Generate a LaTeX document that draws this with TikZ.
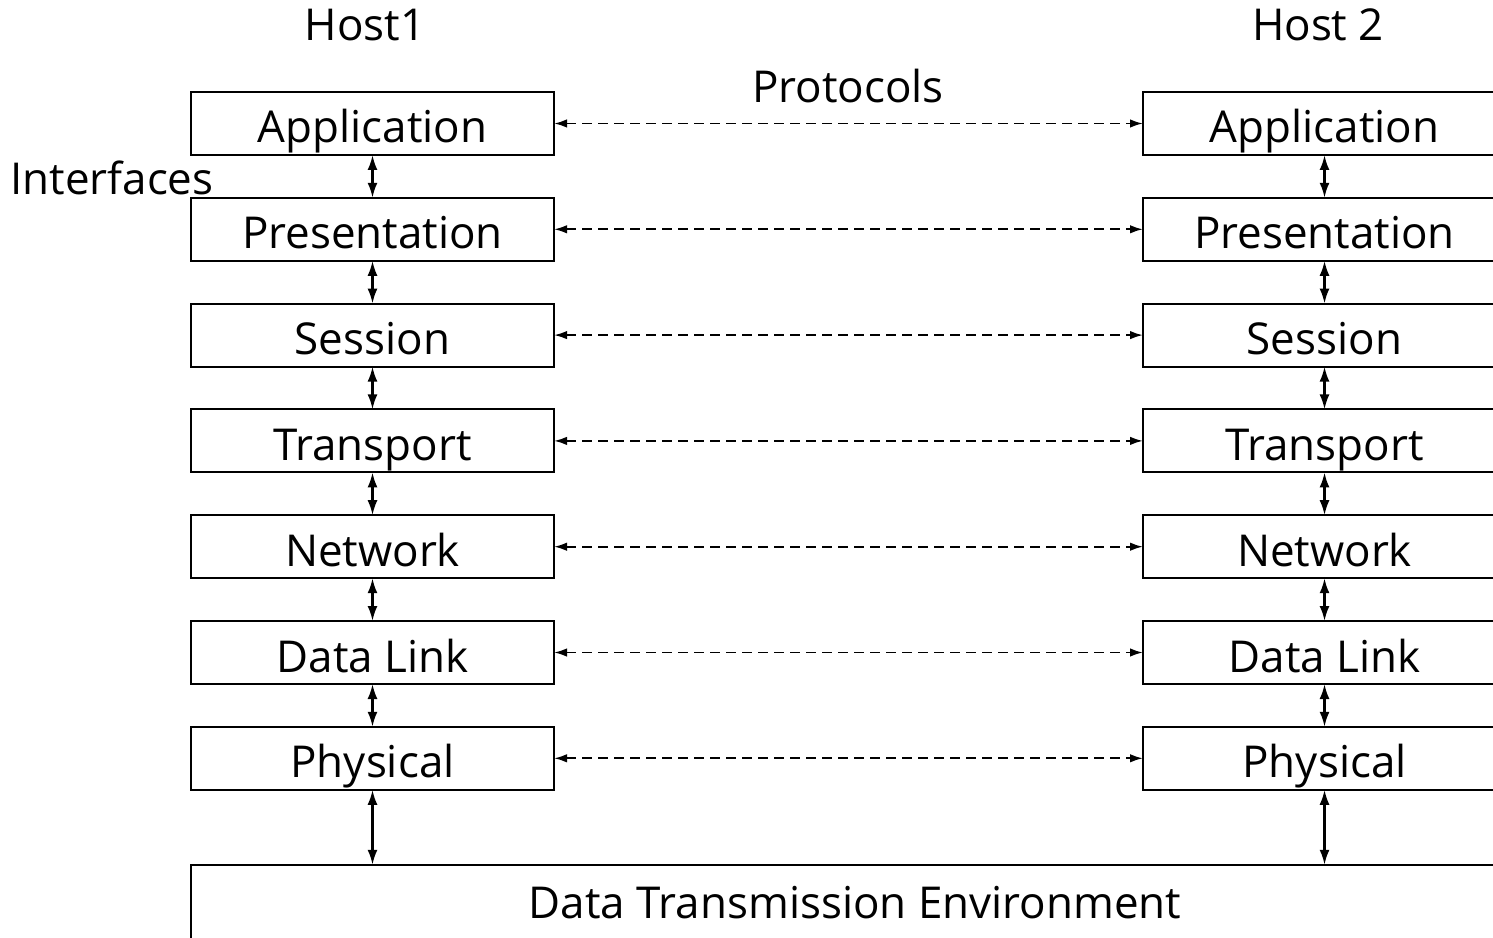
\documentclass[tikz,border=0pt]{standalone}
\usepackage{fontspec}
\setmainfont{Open Sans}
\usetikzlibrary{arrows.meta, positioning}

\begin{document}
\begin{tikzpicture}[
    node distance=0.856cm and 11.78cm,
    layer/.style={rectangle, draw, line width=1.2pt, outer sep=0pt, minimum height=1.26cm, minimum width=7.26cm, text height=0.78cm, text depth=0pt, align=center, font=\fontsize{25}{30}\selectfont},
    label text/.style={font=\fontsize{25}{30}\selectfont},
    iface/.style={arrows={Latex[length=3mm, width=2mm]-Latex[length=3mm, width=2mm]}, line width=1.3pt},
    proto/.style={arrows={Latex[length=2.6mm, width=1.7mm]-Latex[length=2.6mm, width=1.7mm]}, line width=1.1pt, dash pattern=on 0.2cm off 0.12cm}
]
    \useasboundingbox (0,0) rectangle (29.86,-18.74);
    \clip (0,0) rectangle (29.86,-18.74);

    % Host 1 stack
    \node[layer] (app1) at (7.45,-2.47) {Application};
    \node[layer, below=of app1] (pre1) {Presentation};
    \node[layer, below=of pre1] (ses1) {Session};
    \node[layer, below=of ses1] (tra1) {Transport};
    \node[layer, below=of tra1] (net1) {Network};
    \node[layer, below=of net1] (dat1) {Data Link};
    \node[layer, below=of dat1] (phy1) {Physical};

    % Host 2 stack
    \node[layer, right=of app1] (app2) {Application};
    \node[layer, below=of app2] (pre2) {Presentation};
    \node[layer, below=of pre2] (ses2) {Session};
    \node[layer, below=of ses2] (tra2) {Transport};
    \node[layer, below=of tra2] (net2) {Network};
    \node[layer, below=of net2] (dat2) {Data Link};
    \node[layer, below=of dat2] (phy2) {Physical};

    % Medium
    \node[layer, anchor=north west, minimum width=26.56cm, minimum height=1.6cm, text height=0.56cm] (env) at ([yshift=-1.5cm]phy1.south west) {Data Transmission Environment};

    % Labels
    \node[label text] (host1) at (7.3,-0.5) {Host1};
    \node[label text] (host2) at (26.36,-0.5) {Host 2};
    \node[label text] (protocols) at (16.96,-1.72) {Protocols};
    \node[label text] (interfaces) at (2.24,-3.56) {Interfaces};

    % Interfaces
    \foreach \a/\b in {app/pre, pre/ses, ses/tra, tra/net, net/dat, dat/phy} {
        \draw[iface] (\a1) -- (\b1);
        \draw[iface] (\a2) -- (\b2);
    }
    \draw[iface] (phy1.south) -- (phy1.south |- env.north);
    \draw[iface] (phy2.south) -- (phy2.south |- env.north);

    % Protocols
    \foreach \l in {app, pre, ses, tra, net, dat, phy}
        \draw[proto] (\l1) -- (\l2);

\end{tikzpicture}
\end{document}
